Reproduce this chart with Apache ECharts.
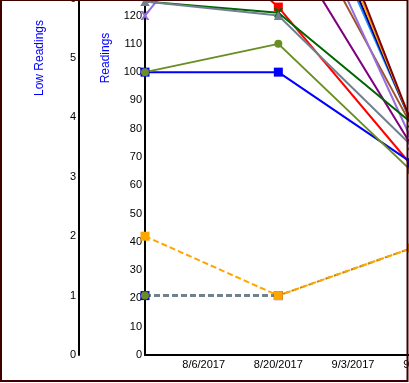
<!DOCTYPE html>
<html>
<head>
<meta charset="utf-8">
<script src="https://cdn.jsdelivr.net/npm/echarts@6/dist/echarts.min.js"></script>
<style>
html,body{margin:0;padding:0;background:#fff;}
#wrap{position:relative;width:409px;height:383px;overflow:hidden;}
#c{position:absolute;left:0;top:-249px;width:520px;height:632px;}
</style>
</head>
<body>
<div id="wrap"><div id="c"></div></div>
<script>
// ---- data ----
const dates = ['7/26/2017', '8/20/2017', '9/14/2017'];
const xTickLabels = ['8/6/2017', '8/20/2017', '9/3/2017', '9/17/2017'];

// Readings (inner axis)
const blueVals        = [100, 100, 68];
const oliveVals       = [100, 110, 65];
const redVals         = [164, 123, 67];
const darkGreenVals   = [125, 121, 82];
const grayVals        = [125, 120, 74];
const purpleVals      = [140, 151, 74];
const medPurpleVals   = [120, 179, 76];
const siennaVals      = [150, 168, 81];
const dodgerVals      = [160, 189, 82];
const darkBlueVals    = [165, 193, 82];
const orangeVals      = [170, 198, 82];
const maroonVals      = [175, 203, 82];

// Low Readings (outer axis)
const blueLow   = [1, 1, null];
const oliveLow  = [1, 1, null];
const grayLow   = [1, 1, null];
const orangeLow = [2, 1, 1.8];
const goldLow   = [null, 1, 1.8];

// ---- helpers ----
function toUTC(s) { const p = s.split('/').map(Number); return Date.UTC(p[2], p[0] - 1, p[1]); }
const base = toUTC(dates[0]);
const DAY = 86400000;
const xs = dates.map(d => Math.round((toUTC(d) - base) / DAY));
function fmt(v) { const d = new Date(base + v * DAY); return (d.getUTCMonth() + 1) + '/' + d.getUTCDate() + '/' + d.getUTCFullYear(); }
function pts(vals) { const out = []; vals.forEach((v, i) => { if (v !== null) out.push([xs[i], v]); }); return out; }

const xPath = 'path://M0,0L3,0L5,3L7,0L10,0L6.5,5L10,10L7,10L5,7L3,10L0,10L3.5,5Z';

function solid(name, color, vals, symbol, size) {
  return {
    name, type: 'line', yAxisIndex: 0, data: pts(vals),
    lineStyle: { color, width: 2 }, itemStyle: { color },
    symbol: symbol || 'none', symbolSize: size || 8, showSymbol: !!symbol,
    animation: false, silent: true
  };
}
function dashed(name, color, vals, symbol, size, offset) {
  return {
    name, type: 'line', yAxisIndex: 1, data: pts(vals),
    lineStyle: { color, width: 2, type: [6, 3], dashOffset: offset || 0 }, itemStyle: { color },
    symbol: symbol || 'none', symbolSize: size || 8, showSymbol: !!symbol,
    animation: false, silent: true
  };
}

const font = 'Liberation Sans, Arial, sans-serif';
const TOP = 249;
const chart = echarts.init(document.getElementById('c'), null, { renderer: 'canvas' });
chart.setOption({
  animation: false,
  backgroundColor: '#fff',
  grid: { left: 145, right: 55, top: 10, bottom: 28, containLabel: false, outerBoundsMode: 'none' },
  xAxis: {
    type: 'value', min: 0, max: 60, interval: 1,
    axisLine: { show: true, lineStyle: { color: '#000', width: 2 } },
    axisTick: { show: false }, splitLine: { show: false },
    axisLabel: {
      margin: 4, color: '#000', fontSize: 11, fontFamily: font,
      formatter: v => { const s = fmt(v); return xTickLabels.indexOf(s) >= 0 ? s : ''; }
    }
  },
  yAxis: [
    {
      type: 'value', position: 'left', offset: 0, min: 0, max: 210, interval: 10,
      name: 'Readings', nameLocation: 'middle', nameGap: 33.5, nameMoveOverlap: false,
      nameTextStyle: { color: '#0000ff', fontSize: 12, fontFamily: font },
      axisLine: { show: true, lineStyle: { color: '#000', width: 2 } },
      axisTick: { show: false }, splitLine: { show: false },
      axisLabel: { margin: 3, color: '#000', fontSize: 11, fontFamily: font }
    },
    {
      type: 'value', position: 'left', offset: 66, min: 0, max: 10, interval: 1,
      name: 'Low Readings', nameLocation: 'middle', nameGap: 33.5, nameMoveOverlap: false,
      nameTextStyle: { color: '#0000ff', fontSize: 12, fontFamily: font },
      axisLine: { show: true, lineStyle: { color: '#000', width: 2 } },
      axisTick: { show: false }, splitLine: { show: false },
      axisLabel: { margin: 3, color: '#000', fontSize: 11, fontFamily: font }
    }
  ],
  series: [
    solid('Sienna', '#a0522d', siennaVals),
    solid('Purple', '#800080', purpleVals),
    solid('MediumPurple', '#9370db', medPurpleVals, xPath, 9),
    solid('DodgerBlue', '#1e90ff', dodgerVals),
    solid('DarkBlue', '#00008b', darkBlueVals),
    solid('Orange', '#ffa500', orangeVals),
    solid('Maroon', '#800000', maroonVals),
    solid('Red', '#ff0000', redVals, 'rect', 9),
    solid('DarkGreen', '#006400', darkGreenVals, xPath, 9),
    solid('SlateGray', '#708090', grayVals, 'triangle', 9),
    solid('Blue', '#0000ff', blueVals, 'rect', 9),
    solid('OliveDrab', '#6b8e23', oliveVals, 'circle', 8),
    dashed('Blue Low', '#0000ff', blueLow, 'rect', 9),
    dashed('OliveDrab Low', '#6b8e23', oliveLow, 'circle', 8),
    dashed('SlateGray Low', '#708090', grayLow, 'none'),
    dashed('Gold Low', '#b8860b', goldLow, 'none', 8, 4),
    dashed('Orange Low', '#ffa500', orangeLow, 'rect', 9)
  ],
  graphic: [{
    type: 'rect', z: 1000, silent: true,
    shape: { x: 1, y: TOP, width: 406.5, height: 381 },
    style: { fill: 'none', stroke: '#400000', lineWidth: 2 }
  }]
});
</script>
</body>
</html>
